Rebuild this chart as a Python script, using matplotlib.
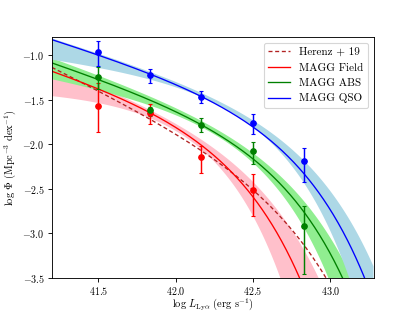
import numpy as np
import matplotlib
matplotlib.use("Agg")
import matplotlib.pyplot as plt

plt.rcParams['font.family'] = 'serif'
plt.rcParams['font.serif'] = ['cmr10', 'DejaVu Serif']
plt.rcParams['mathtext.fontset'] = 'cm'
plt.rcParams['axes.formatter.use_mathtext'] = True
plt.rcParams['axes.unicode_minus'] = True

# Binned luminosity function points
bin_centres = [41.5, 41.833, 42.167, 42.5, 42.833]

qso_phi = [-0.963, -1.217, -1.47, -1.76, -2.19]
qso_hi = [-0.84, -1.15, -1.40, -1.66, -2.04]
qso_lo = [-1.12, -1.31, -1.54, -1.89, -2.42]

abs_phi = [-1.244, -1.62, -1.78, -2.08, -2.92]
abs_hi = [-1.13, -1.58, -1.70, -1.97, -2.69]
abs_lo = [-1.375, -1.68, -1.86, -2.22, -3.46]

field_x = [41.5, 41.833, 42.167, 42.5]
field_phi = [-1.574, -1.646, -2.14, -2.51]
field_hi = [-1.31, -1.55, -2.02, -2.33]
field_lo = [-1.86, -1.77, -2.32, -2.81]

# Schechter parameters (log phi*, log L*, alpha)
herenz19 = (-2.71, 42.66, -1.84)
field_fit = (-2.08, 42.265, -1.54)
field_band_hi = (-2.265, 42.45, -1.638)
field_band_lo = (-1.778, 42.0, -1.031)
abs_fit = (-2.21, 42.58, -1.565)
abs_band_hi = (-2.257, 42.66, -1.60)
abs_band_lo = (-1.992, 42.40, -1.323)
qso_fit = (-1.94, 42.65, -1.53)
qso_band_hi = (-1.982, 42.75, -1.53)
qso_band_lo = (-1.669, 42.45, -1.225)

x_ticks = [41.5, 42.0, 42.5, 43.0]
y_ticks = [-1.0, -1.5, -2.0, -2.5, -3.0, -3.5]


def schechter(l, pars):
    logphi, logL, alpha = pars
    x = 10 ** (l - logL)
    return logphi + np.log10(np.log(10)) + (alpha + 1) * (l - logL) - x / np.log(10)


fig, ax = plt.subplots(figsize=(415 / 80, 312 / 80), dpi=80)
ax.set_xlim(41.2, 43.28)
ax.set_ylim(-3.5, -0.8)
ll = np.linspace(41.2, 43.28, 400)

for hi, lo, col in [(field_band_hi, field_band_lo, 'pink'),
                    (abs_band_hi, abs_band_lo, 'lightgreen'),
                    (qso_band_hi, qso_band_lo, 'lightblue')]:
    a = schechter(ll, hi)
    b = schechter(ll, lo)
    ax.fill_between(ll, np.minimum(a, b), np.maximum(a, b), color=col, lw=0)

ax.plot(ll, schechter(ll, herenz19), ls=(0, (3, 2)), color='#b22222', lw=1.2, label='Herenz + 19')
ax.plot(ll, schechter(ll, field_fit), color='red', lw=1.2, label='MAGG Field')
ax.plot(ll, schechter(ll, abs_fit), color='green', lw=1.2, label='MAGG ABS')
ax.plot(ll, schechter(ll, qso_fit), color='blue', lw=1.2, label='MAGG QSO')

for x, y, hi, lo, col in [(field_x, field_phi, field_hi, field_lo, 'red'),
                          (bin_centres, abs_phi, abs_hi, abs_lo, 'green'),
                          (bin_centres, qso_phi, qso_hi, qso_lo, 'blue')]:
    y = np.array(y)
    err = [y - np.array(lo), np.array(hi) - y]
    ax.errorbar(x, y, yerr=err, fmt='o', color=col, ms=5, capsize=2, elinewidth=1.3)

ax.set_xticks(x_ticks)
ax.set_yticks(y_ticks)
fmt = matplotlib.ticker.FuncFormatter(lambda v, p: '$%.1f$' % v)
ax.xaxis.set_major_formatter(fmt)
ax.yaxis.set_major_formatter(fmt)
ax.tick_params(labelsize=9, pad=3)
ax.set_xlabel(r'$\log\,L_{\mathrm{Ly}\alpha}\ (\mathrm{erg\ s^{-1}})$', fontsize=9.5, labelpad=0)
ax.set_ylabel(r'$\log\,\Phi\ (\mathrm{Mpc^{-3}\ dex^{-1}})$', fontsize=9.5, labelpad=3)
ax.legend(loc='upper right', fontsize=10)

fig.savefig('out.png', dpi=80)
